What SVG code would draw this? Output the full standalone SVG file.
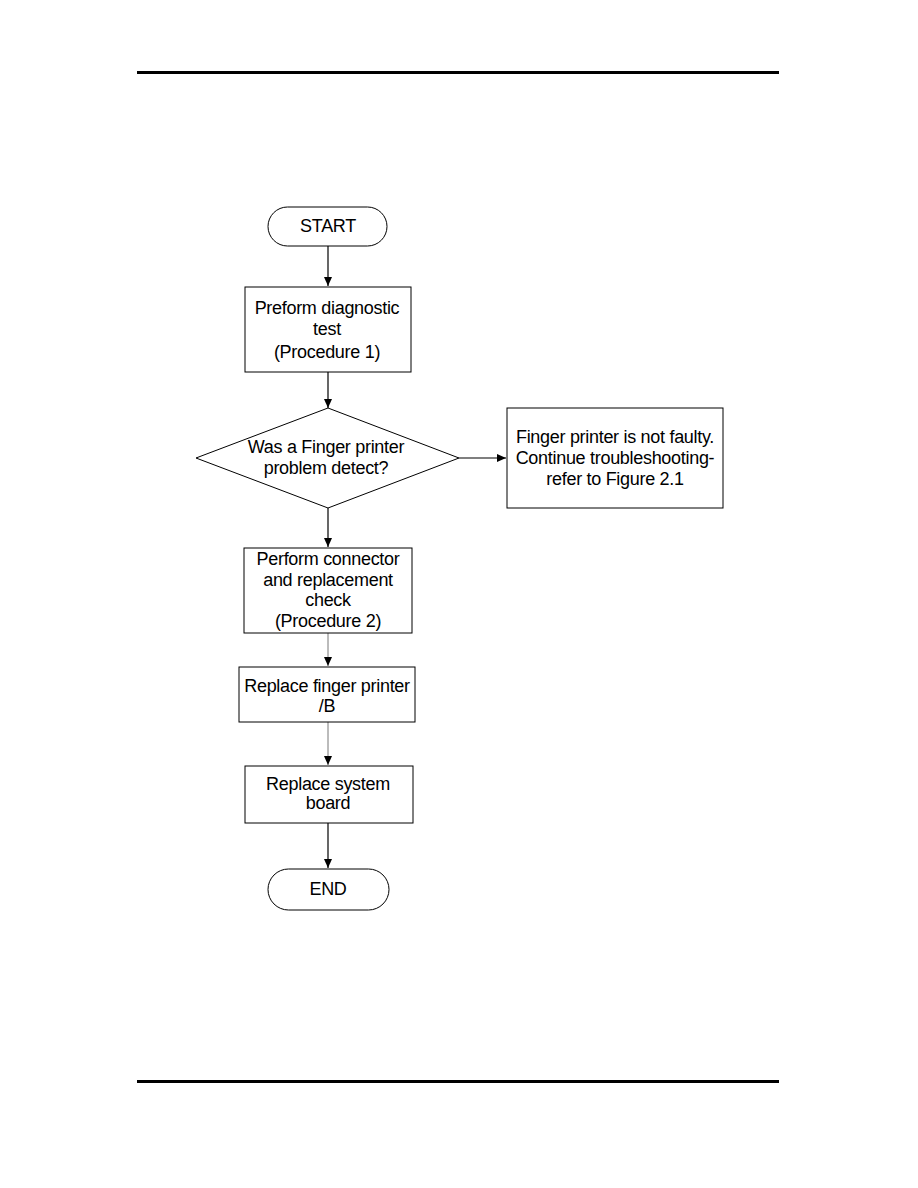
<svg xmlns="http://www.w3.org/2000/svg" width="918" height="1188" viewBox="0 0 918 1188">
<style>
.n{fill:#fff;stroke:#000;stroke-width:1}
.t{font-family:"Liberation Sans",Arial,sans-serif;font-size:18px;fill:#000;text-anchor:middle;letter-spacing:-0.3px}
.c{stroke:#000;stroke-width:1.2;fill:none;marker-end:url(#ah)}
.cl{stroke:#555;stroke-width:0.8;fill:none;marker-end:url(#ah)}
</style>
<defs>
<marker id="ah" markerWidth="10" markerHeight="10" refX="9" refY="5" orient="auto" markerUnits="userSpaceOnUse">
<path d="M0,1 L9,5 L0,9 Z" fill="#000"/>
</marker>
</defs>
<rect width="918" height="1188" fill="#fff"/>
<rect x="137" y="71" width="642" height="3" fill="#000"/>
<rect x="137" y="1080" width="642" height="3" fill="#000"/>
<g id="connectors">
<line class="c" x1="328" y1="246" x2="328" y2="286"/>
<line class="c" x1="328" y1="372" x2="328" y2="408"/>
<line class="c" x1="459" y1="458" x2="506" y2="458"/>
<line class="c" x1="328" y1="508" x2="328" y2="547"/>
<line class="cl" x1="328" y1="633" x2="328" y2="666"/>
<line class="cl" x1="328" y1="722" x2="328" y2="765"/>
<line class="c" x1="328" y1="823" x2="328" y2="868"/>
</g>
<g id="start">
<rect class="n" x="268" y="207" width="119" height="39" rx="19.5" ry="19.5" stroke="#777"/>
<text class="t" x="328" y="232">START</text>
</g>
<g id="diag">
<rect class="n" x="245" y="287" width="166" height="85"/>
<text class="t" x="327" y="314">Preform diagnostic</text>
<text class="t" x="327" y="335">test</text>
<text class="t" x="327" y="358">(Procedure 1)</text>
</g>
<g id="decision">
<polygon class="n" points="328,408 459,458 328,508 196,458" stroke="#666" stroke-width="0.8"/>
<text class="t" x="326" y="453">Was a Finger printer</text>
<text class="t" x="326" y="474">problem detect?</text>
</g>
<g id="notfaulty">
<rect class="n" x="507" y="408" width="216" height="100"/>
<text class="t" x="615" y="443">Finger printer is not faulty.</text>
<text class="t" x="615" y="464">Continue troubleshooting-</text>
<text class="t" x="615" y="485">refer to Figure 2.1</text>
</g>
<g id="connector">
<rect class="n" x="244" y="548" width="168" height="85"/>
<text class="t" x="328" y="565">Perform connector</text>
<text class="t" x="328" y="586">and replacement</text>
<text class="t" x="328" y="606">check</text>
<text class="t" x="328" y="627">(Procedure 2)</text>
</g>
<g id="replacefp">
<rect class="n" x="239" y="667" width="176" height="55"/>
<text class="t" x="327" y="692">Replace finger printer</text>
<text class="t" x="327" y="712">/B</text>
</g>
<g id="replacesb">
<rect class="n" x="245" y="766" width="168" height="57"/>
<text class="t" x="328" y="790">Replace system</text>
<text class="t" x="328" y="809">board</text>
</g>
<g id="end">
<rect class="n" x="268" y="869" width="121" height="41" rx="20.5" ry="20.5" stroke="#777"/>
<text class="t" x="328" y="895">END</text>
</g>
</svg>
